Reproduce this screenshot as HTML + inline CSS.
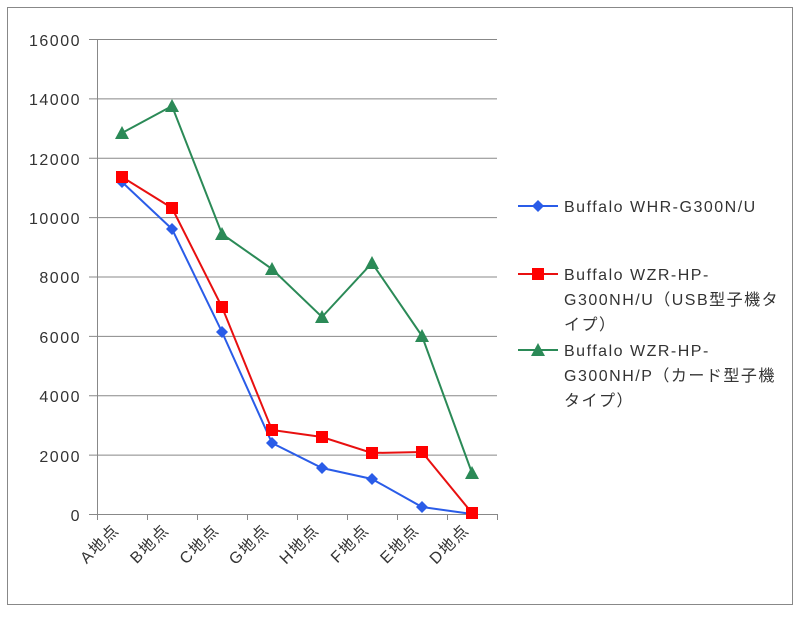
<!DOCTYPE html>
<html><head><meta charset="utf-8"><style>
body{margin:0;background:#fff;}
svg text{font-family:"Liberation Sans","Noto Sans CJK JP",sans-serif;font-size:16px;letter-spacing:1.5px;fill:#333;}
</style></head><body>
<svg width="800" height="614" xmlns="http://www.w3.org/2000/svg">
<rect x="7.5" y="7.5" width="785" height="597" fill="#fff" stroke="#888"/>
<g stroke="#888" stroke-width="1">
<line x1="89" y1="39.5" x2="497" y2="39.5"/>
<line x1="89" y1="98.9" x2="497" y2="98.9"/>
<line x1="89" y1="158.3" x2="497" y2="158.3"/>
<line x1="89" y1="217.6" x2="497" y2="217.6"/>
<line x1="89" y1="277" x2="497" y2="277"/>
<line x1="89" y1="336.4" x2="497" y2="336.4"/>
<line x1="89" y1="395.8" x2="497" y2="395.8"/>
<line x1="89" y1="455.1" x2="497" y2="455.1"/>
<line x1="89" y1="514.5" x2="497" y2="514.5"/>
<line x1="97.5" y1="39" x2="97.5" y2="520"/>
<line x1="147.5" y1="514" x2="147.5" y2="520"/>
<line x1="197.5" y1="514" x2="197.5" y2="520"/>
<line x1="247.5" y1="514" x2="247.5" y2="520"/>
<line x1="297.5" y1="514" x2="297.5" y2="520"/>
<line x1="347.5" y1="514" x2="347.5" y2="520"/>
<line x1="397.5" y1="514" x2="397.5" y2="520"/>
<line x1="447.5" y1="514" x2="447.5" y2="520"/>
<line x1="497.5" y1="514" x2="497.5" y2="520"/>
</g>
<g text-anchor="end">
<text x="81" y="46">16000</text><text x="81" y="105">14000</text><text x="81" y="165">12000</text>
<text x="81" y="224">10000</text><text x="81" y="283">8000</text><text x="81" y="343">6000</text>
<text x="81" y="402">4000</text><text x="81" y="462">2000</text><text x="81" y="521">0</text>
</g>
<g text-anchor="end">
<text transform="translate(120,531) rotate(-45)">A地点</text>
<text transform="translate(170,531) rotate(-45)">B地点</text>
<text transform="translate(220,531) rotate(-45)">C地点</text>
<text transform="translate(270,531) rotate(-45)">G地点</text>
<text transform="translate(320,531) rotate(-45)">H地点</text>
<text transform="translate(370,531) rotate(-45)">F地点</text>
<text transform="translate(420,531) rotate(-45)">E地点</text>
<text transform="translate(470,531) rotate(-45)">D地点</text>
</g>
<polyline fill="none" stroke="#2b8a57" stroke-width="2" points="122,133 172,106 222,234 272,269 322,317 372,263 422,336 472,473"/>
<g fill="#2b8a57">
<polygon points="122,126 129,139 115,139"/><polygon points="172,99 179,112 165,112"/><polygon points="222,227 229,240 215,240"/><polygon points="272,262 279,275 265,275"/><polygon points="322,310 329,323 315,323"/><polygon points="372,256 379,269 365,269"/><polygon points="422,329 429,342 415,342"/><polygon points="472,466 479,479 465,479"/>
</g>
<polyline fill="none" stroke="#2a5ce8" stroke-width="2" points="122,182 172,229 222,332 272,443 322,468 372,479 422,507 472,514"/>
<g fill="#2a5ce8">
<polygon points="122,176 128,182 122,188 116,182"/><polygon points="172,223 178,229 172,235 166,229"/><polygon points="222,326 228,332 222,338 216,332"/><polygon points="272,437 278,443 272,449 266,443"/><polygon points="322,462 328,468 322,474 316,468"/><polygon points="372,473 378,479 372,485 366,479"/><polygon points="422,501 428,507 422,513 416,507"/>
</g>
<polyline fill="none" stroke="#e81010" stroke-width="2" points="122,177 172,208 222,307 272,430 322,437 372,453 422,452 472,513"/>
<g fill="#f00">
<rect x="116" y="171" width="12" height="12"/><rect x="166" y="202" width="12" height="12"/><rect x="216" y="301" width="12" height="12"/><rect x="266" y="424" width="12" height="12"/><rect x="316" y="431" width="12" height="12"/><rect x="366" y="447" width="12" height="12"/><rect x="416" y="446" width="12" height="12"/><rect x="466" y="507" width="12" height="12"/>
</g>
<line x1="518" y1="206" x2="558" y2="206" stroke="#2a5ce8" stroke-width="2"/>
<polygon points="538,200 544,206 538,212 532,206" fill="#2a5ce8"/>
<text x="564" y="212">Buffalo WHR-G300N/U</text>
<line x1="518" y1="274" x2="558" y2="274" stroke="#e81010" stroke-width="2"/>
<rect x="532" y="268" width="12" height="12" fill="#f00"/>
<text x="564" y="280">Buffalo WZR-HP-</text>
<text x="564" y="305">G300NH/U（USB型子機タ</text>
<text x="564" y="330">イプ）</text>
<line x1="518" y1="350" x2="558" y2="350" stroke="#2b8a57" stroke-width="2"/>
<polygon points="538,343 545,356 531,356" fill="#2b8a57"/>
<text x="564" y="356">Buffalo WZR-HP-</text>
<text x="564" y="381">G300NH/P（カード型子機</text>
<text x="564" y="406">タイプ）</text>
</svg>
</body></html>
